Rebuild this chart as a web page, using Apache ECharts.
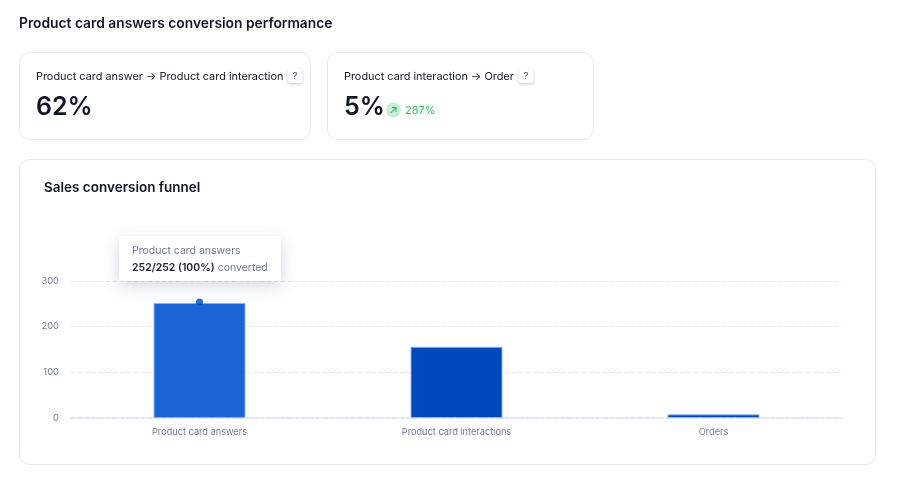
<!DOCTYPE html>
<html><head><meta charset="utf-8">
<style>html,body{margin:0;padding:0;background:#fff;overflow:hidden}#c{width:897px;height:487px}</style>
<script src="https://cdn.jsdelivr.net/npm/echarts@6/dist/echarts.min.js"></script>
</head><body><div id="c"></div>
<script>
const categories = ['Product card answers','Product card interactions','Orders'];
const orders = [252,156,8];
const yTicks = [0,100,200,300];
const FONT = 'Inter, "Noto Sans", sans-serif';
const INK='#0f1726', MUTED='#6f7a99', BORDER='#e3e8f1';
const chart = echarts.init(document.getElementById('c'),null,{renderer:'canvas'});
function card(x,y,w,h){return {type:'rect',silent:true,z:0,shape:{x:x+.5,y:y+.5,width:w,height:h,r:10},style:{fill:'#fff',stroke:BORDER,lineWidth:1}};}
function txt(x,y,t,size,fill,weight){return {type:'text',silent:true,z:1,x:x,y:y,style:{text:t,font:(weight||400)+' '+size+'px '+FONT,fill:fill,textVerticalAlign:'middle',textAlign:'left'}};}
function badge(x,y){return [
 {type:'rect',silent:true,z:3,shape:{x:x,y:y,width:15,height:14,r:3},style:{fill:'#fff',shadowBlur:3,shadowColor:'rgba(70,85,130,.35)',shadowOffsetY:1}},
 {type:'text',silent:true,z:4,x:x+7.5,y:y+7,style:{text:'?',font:'500 9.5px '+FONT,fill:'#55618a',textAlign:'center',textVerticalAlign:'middle'}}];}
const graphics=[
 txt(19,24,'Product card answers conversion performance',13.8,INK,600),
 card(19,52,291,87),card(327,52,266,87),card(19,159,856,305),
 txt(36,76.5,'Product card answer → Product card interaction',10.9,INK),
 ...badge(287.5,69),
 txt(36,107,'62%',25,INK,600),
 txt(344,76.5,'Product card interaction → Order',10.9,INK),
 ...badge(518.5,69),
 txt(344,107,'5%',25,INK,600),
 {type:'circle',silent:true,z:1,shape:{cx:393.5,cy:110,r:7.5},style:{fill:'#c6eed2'}},
 {type:'polyline',silent:true,z:2,shape:{points:[[390.5,113],[396,107.5]]},style:{stroke:'#2f9e55',lineWidth:1,fill:null}},
 {type:'polyline',silent:true,z:2,shape:{points:[[392,107.5],[396,107.5],[396,111.5]]},style:{stroke:'#2f9e55',lineWidth:1,fill:null}},
 txt(405,110.5,'287%',11,'#3dbb62'),
 txt(44,188,'Sales conversion funnel',13.5,INK,600),
];
chart.setOption({
 animation:false,
 textStyle:{fontFamily:FONT},
 graphic:graphics,
 grid:{left:71,right:55,top:281,bottom:69,containLabel:false},
 tooltip:{show:true,trigger:'item',alwaysShowContent:true,transitionDuration:0,showDelay:0,hideDelay:0,
  padding:0,borderWidth:0,backgroundColor:'transparent',extraCssText:'box-shadow:none;',
  position:()=>[119,236],
  formatter:(p)=>{const i=p.dataIndex,v=orders[i],b=orders[0],pct=Math.round(v/b*100);
   return `<div style="box-sizing:border-box;width:162px;height:45px;background:#fff;border-radius:3px;box-shadow:0 5px 16px rgba(60,75,120,.22);padding:6px 13px;font-family:Inter,sans-serif;font-size:10.5px;line-height:17px;color:${MUTED};white-space:nowrap">${categories[i]}<br><span style="color:#1b2233;font-weight:600">${v}/${b} (${pct}%)</span> converted</div>`;}},
 xAxis:{type:'category',data:categories,axisTick:{show:false},
  axisLine:{show:true,lineStyle:{color:'#d9def0',type:[3,2],width:1.5}},
  axisLabel:{color:MUTED,fontSize:9.2,margin:9.5,fontFamily:FONT},splitLine:{show:false}},
 yAxis:{type:'value',min:yTicks[0],max:yTicks[3],interval:100,
  axisLine:{show:false},axisTick:{show:false},
  axisLabel:{color:MUTED,fontSize:9.4,margin:12,fontFamily:FONT},
  splitLine:{show:true,lineStyle:{color:'#e2e6f0',type:[4,3],width:1}}},
 series:[
  {type:'bar',barWidth:92,data:orders.map((v,i)=>({value:v,itemStyle:{color:i===0?'#1a64d6':'#0047bb'}})),
   itemStyle:{borderColor:'#8db4ef',borderWidth:1,borderType:'solid'},emphasis:{disabled:true},z:2},
  {type:'scatter',data:[orders[0],null,null],symbol:'circle',symbolSize:7,symbolOffset:[0,-1],itemStyle:{color:'#0047bb'},emphasis:{disabled:true},z:3,tooltip:{show:false},silent:true}
 ]
});
chart.dispatchAction({type:'showTip',seriesIndex:0,dataIndex:0});
</script></body></html>
